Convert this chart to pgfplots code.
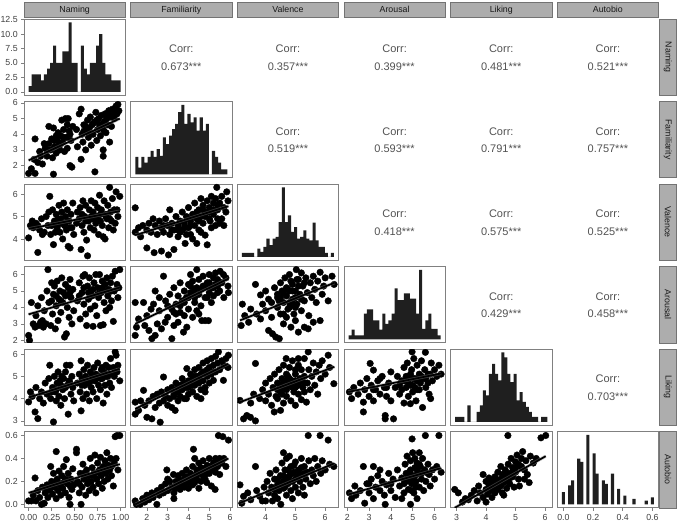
\documentclass[border=0pt]{standalone}
\usepackage{fontspec}
\setmainfont{Liberation Sans}
\usepackage{pgfplots}
\pgfplotsset{compat=1.18}
\pgfplotsset{
  panel/.style={scale only axis, width=101.3pt, height=76.3pt, anchor=north west,
    xtick=\empty, ytick=\empty,
    axis line style={draw=black!50, line width=0.7pt},
    tick style={draw=black!50, line width=0.6pt}, tick align=outside, major tick length=2.8pt,
    xtick pos=bottom, ytick pos=left,
    ticklabel style={font=\fontsize{8.8}{9}\selectfont, text=black!75},
    /pgf/number format/assume math mode=true,
    clip marker paths=true},
  pts/.style={only marks, mark=*, mark size=3.3pt, mark options={fill=black, draw=black}},
  band/.style={no marks, draw=black!50, line width=3.2pt, opacity=0.45},
  reg/.style={no marks, black, line width=1.7pt},
  hist/.style={ybar interval, fill=black!88, draw=none},
  dec1/.style={/pgf/number format/.cd, fixed, fixed zerofill, precision=1},
  dec2/.style={/pgf/number format/.cd, fixed, fixed zerofill, precision=2},
}
\tikzset{
  strip/.style={fill=black!32, draw=black!55, line width=0.6pt},
  striptext/.style={font=\fontsize{8.8}{10}\selectfont, text=black!90},
  corr/.style={font=\fontsize{11}{12}\selectfont, text=black!68},
}
\begin{document}
\begin{tikzpicture}[x=1pt,y=1pt]
\useasboundingbox (0,0) rectangle (678,-524);

% ---------- strips ----------
\foreach \L/\n in {24/Naming,130.65/Familiarity,237.3/Valence,343.95/Arousal,450.6/Liking,557.25/Autobio}{
  \draw[strip] (\L,-2) rectangle ++(101.3,-15.5);
  \node[striptext] at (\L+50.65,-9.75) {\n};
}
\foreach \T/\n in {19/Naming,101.5/Familiarity,184/Valence,266.5/Arousal,349/Liking,431.5/Autobio}{
  \draw[strip] (659.5,-\T) rectangle ++(17,-76.3);
  \node[striptext, rotate=-90] at (668,-\T-38.15) {\n};
}

% ---------- correlations ----------
\foreach \cx/\cy/\v in {181.3/57.15/0.673, 287.95/57.15/0.357, 394.6/57.15/0.399, 501.25/57.15/0.481, 607.9/57.15/0.521,
  287.95/139.65/0.519, 394.6/139.65/0.593, 501.25/139.65/0.791, 607.9/139.65/0.757,
  394.6/222.15/0.418, 501.25/222.15/0.575, 607.9/222.15/0.525,
  501.25/304.65/0.429, 607.9/304.65/0.458,
  607.9/387.15/0.703}{
  \node[corr] at (\cx,-\cy+8) {Corr:};
  \node[corr] at (\cx,-\cy-9.5) {\v***};
}

% ---------- diagonal histograms ----------
\begin{axis}[panel, at={(24pt,-19pt)}, xmin=-1.5, xmax=31.5, ymin=-0.6, ymax=12.6,
  ytick={0,2.5,5,7.5,10,12.5}, yticklabel style={dec1}]
\addplot[hist] coordinates {(0,1)(1,3)(2,3)(3,3)(4,2)(5,3)(6,4)(7,5)(8,8)(9,5)(10,5)(11,7)(12,7)(13,12)(14,5)(15,5)(16,0)(17,8)(18,4)(19,3)(20,5)(21,5)(22,8)(23,10)(24,5)(25,3)(26,3)(27,2)(28,2)(29,2)(30,2)};
\end{axis}

\begin{axis}[panel, at={(130.65pt,-101.5pt)}, xmin=-1.5, xmax=31.5, ymin=-10.4, ymax=217]
\addplot[hist] coordinates {(0,52)(1,20)(2,52)(3,35)(4,52)(5,70)(6,52)(7,75)(8,55)(9,110)(10,90)(11,115)(12,135)(13,150)(14,185)(15,207)(16,150)(17,180)(18,155)(19,170)(20,130)(21,170)(22,130)(23,150)(24,0)(25,70)(26,52)(27,35)(28,15)(29,15)(30,15)};
\end{axis}

\begin{axis}[panel, at={(237.3pt,-184pt)}, xmin=-1.5, xmax=31.5, ymin=-10.5, ymax=220]
\addplot[hist] coordinates {(0,12)(1,12)(2,12)(3,12)(4,0)(5,25)(6,15)(7,30)(8,55)(9,35)(10,55)(11,60)(12,105)(13,210)(14,105)(15,125)(16,75)(17,90)(18,55)(19,60)(20,80)(21,55)(22,50)(23,103)(24,50)(25,30)(26,30)(27,12)(28,0)(29,12)(30,12)};
\end{axis}

\begin{axis}[panel, at={(343.95pt,-266.5pt)}, xmin=-1.5, xmax=31.5, ymin=-10.3, ymax=216]
\addplot[hist] coordinates {(0,12)(1,29)(2,12)(3,12)(4,12)(5,76)(6,89)(7,89)(8,56)(9,56)(10,29)(11,76)(12,46)(13,56)(14,76)(15,151)(16,116)(17,116)(18,136)(19,136)(20,121)(21,121)(22,76)(23,206)(24,31)(25,56)(26,76)(27,31)(28,31)(29,12)(30,12)};
\end{axis}

\begin{axis}[panel, at={(450.6pt,-349pt)}, xmin=-1.5, xmax=31.5, ymin=-10.5, ymax=220]
\addplot[hist] coordinates {(0,15)(1,15)(2,15)(3,0)(4,50)(5,0)(6,0)(7,30)(8,50)(9,95)(10,80)(11,145)(12,175)(13,145)(14,125)(15,210)(16,195)(17,145)(18,120)(19,145)(20,65)(21,90)(22,60)(23,45)(24,30)(25,15)(26,15)(27,0)(28,15)(29,15)(30,15)};
\end{axis}

\begin{axis}[panel, at={(557.25pt,-431.5pt)}, xmin=-0.0414, xmax=0.6414, ymin=-10.3, ymax=216.3,
  xtick={0,0.2,0.4,0.6}, xticklabel style={dec1}]
\addplot[ybar, bar width=0.0207, fill=black!88, draw=none] coordinates {(0,36)(0.0414,56)(0.0621,71)(0.1034,136)(0.1241,126)(0.1655,206)(0.2069,151)(0.2276,91)(0.2690,71)(0.2897,61)(0.3310,91)(0.3724,46)(0.4138,26)(0.4759,16)(0.5586,11)(0.6,21)};
\end{axis}

% ---------- row 2: Familiarity ----------
\begin{axis}[panel, at={(24pt,-101.5pt)}, xmin=-0.05, xmax=1.05, ymin=1.22, ymax=6.09, ytick={2,3,4,5,6}]
\addplot[pts] coordinates {(0.00,1.5)(0.07,1.5)(0.27,1.45)(0.03,1.8)(0.06,2.4)(0.10,2.2)(0.13,2.6)(0.15,2.1)(0.07,3.7)(0.12,2.9)(0.18,3.1)(0.20,2.6)(0.22,3.4)(0.24,3.0)(0.25,3.7)(0.22,4.5)(0.27,4.4)(0.28,3.2)(0.30,2.8)(0.31,3.6)(0.32,4.1)(0.33,3.3)(0.35,3.9)(0.36,4.9)(0.37,3.5)(0.38,4.3)(0.39,2.9)(0.40,5.0)(0.41,3.8)(0.42,3.1)(0.43,5.0)(0.44,4.2)(0.45,2.0)(0.46,3.6)(0.47,1.9)(0.48,4.5)(0.30,3.9)(0.34,3.0)(0.26,2.5)(0.17,3.4)(0.55,5.3)(0.57,5.6)(0.57,2.4)(0.58,4.0)(0.59,3.5)(0.60,4.6)(0.62,3.0)(0.63,4.2)(0.64,4.9)(0.65,3.8)(0.66,4.4)(0.67,5.1)(0.68,3.3)(0.69,4.6)(0.70,4.0)(0.72,1.6)(0.72,4.8)(0.73,5.4)(0.74,3.6)(0.75,4.3)(0.76,5.0)(0.77,4.6)(0.78,3.9)(0.79,5.2)(0.80,4.4)(0.81,2.6)(0.81,3.0)(0.82,4.8)(0.83,5.3)(0.84,4.1)(0.85,5.0)(0.86,4.6)(0.87,5.5)(0.88,3.5)(0.89,5.1)(0.90,4.5)(0.91,5.6)(0.93,5.0)(0.95,5.8)(0.97,5.9)(0.98,5.5)(0.96,5.3)(0.53,3.2)(0.52,4.3)(0.35,3.4)(0.38,3.8)(0.42,4.6)(0.45,4.0)(0.62,4.5)(0.66,4.0)(0.70,4.7)(0.74,4.9)(0.78,4.6)(0.82,4.2)(0.86,5.2)(0.90,5.2)(0.94,5.4)(0.28,3.6)(0.20,3.0)(0.60,4.2)};
\addplot[band] coordinates {(0,2.33)(0.99,5.0)};
\addplot[reg] coordinates {(0,2.33)(0.99,5.0)};
\end{axis}

% ---------- row 3: Valence ----------
\begin{axis}[panel, at={(24pt,-184pt)}, xmin=-0.05, xmax=1.05, ymin=3.05, ymax=6.45, ytick={4,5,6}]
\addplot[pts] coordinates {(0.00,4.05)(0.02,4.6)(0.04,4.8)(0.05,4.5)(0.08,4.7)(0.10,3.4)(0.12,4.4)(0.14,4.9)(0.17,4.3)(0.19,5.0)(0.21,4.6)(0.23,5.9)(0.24,4.2)(0.26,5.3)(0.27,3.75)(0.28,4.8)(0.30,5.1)(0.31,4.5)(0.32,4.9)(0.33,5.5)(0.34,4.3)(0.35,4.7)(0.36,5.2)(0.37,4.0)(0.38,5.6)(0.39,4.6)(0.40,5.0)(0.41,4.4)(0.42,5.3)(0.43,3.67)(0.44,4.8)(0.45,3.6)(0.46,5.1)(0.47,4.5)(0.48,5.6)(0.49,4.2)(0.29,4.3)(0.22,5.2)(0.15,4.2)(0.55,4.9)(0.56,5.4)(0.57,3.53)(0.58,4.6)(0.59,5.7)(0.60,4.3)(0.61,5.0)(0.62,5.5)(0.63,3.95)(0.64,3.25)(0.65,4.8)(0.66,5.3)(0.67,4.5)(0.68,5.7)(0.69,4.9)(0.70,5.2)(0.71,4.4)(0.72,5.6)(0.73,4.7)(0.74,5.0)(0.75,5.4)(0.76,4.2)(0.77,5.95)(0.78,4.8)(0.79,5.3)(0.80,4.6)(0.81,4.1)(0.82,5.7)(0.83,4.0)(0.84,5.1)(0.85,4.9)(0.86,5.5)(0.87,4.5)(0.88,6.3)(0.89,5.2)(0.90,4.8)(0.91,5.8)(0.92,4.4)(0.94,4.7)(0.95,6.1)(0.96,5.3)(0.99,5.9)(0.97,5.0)(0.52,4.7)(0.53,5.2)(0.35,4.9)(0.40,4.7)(0.45,4.5)(0.30,4.6)(0.62,4.8)(0.68,5.0)(0.72,4.9)(0.78,5.1)(0.84,5.0)(0.88,4.9)(0.25,4.6)(0.10,4.6)(0.58,5.1)(0.93,5.3)};
\addplot[band] coordinates {(0,4.45)(0.99,5.24)};
\addplot[reg] coordinates {(0,4.45)(0.99,5.24)};
\end{axis}

\begin{axis}[panel, at={(130.65pt,-184pt)}, xmin=1.22, xmax=6.09, ymin=3.05, ymax=6.45]
\addplot[pts] coordinates {(1.44,5.39)(1.44,4.3)(1.6,4.5)(1.7,4.1)(1.8,4.6)(2.0,3.6)(2.0,4.4)(2.1,4.7)(2.2,4.3)(2.35,3.39)(2.4,4.6)(2.5,4.2)(2.6,4.8)(2.7,3.46)(2.7,4.5)(2.8,4.3)(2.9,4.9)(3.0,4.6)(3.04,3.29)(3.1,5.3)(3.1,4.2)(3.2,4.7)(3.3,3.53)(3.3,4.4)(3.4,5.0)(3.5,4.6)(3.5,4.1)(3.6,4.8)(3.7,5.2)(3.7,4.4)(3.8,4.7)(3.84,3.8)(3.9,5.0)(4.0,4.5)(4.0,5.4)(4.1,4.8)(4.1,4.2)(4.2,5.1)(4.3,4.6)(4.3,5.6)(4.4,3.8)(4.4,4.9)(4.5,5.3)(4.5,4.4)(4.6,5.8)(4.6,5.0)(4.7,4.7)(4.7,5.5)(4.8,4.17)(4.8,5.2)(4.9,3.74)(4.9,5.7)(5.0,4.9)(5.0,5.4)(5.04,4.8)(5.1,5.9)(5.1,4.5)(5.2,5.6)(5.2,5.1)(5.3,5.8)(5.3,4.6)(5.36,6.3)(5.4,5.3)(5.4,4.9)(5.5,4.7)(5.5,5.6)(5.6,4.9)(5.6,5.9)(5.7,5.4)(5.7,4.6)(5.84,6.1)(5.8,5.2)(5.9,5.7)(4.2,4.0)(3.6,4.3)(3.9,4.2)(4.6,4.3)(2.3,4.9)(3.8,4.5)(4.0,4.9)(4.3,5.0)(4.5,4.8)(4.8,5.0)(5.0,5.2)(5.2,5.3)(4.4,5.2)(3.5,4.4)(3.2,4.4)(2.8,4.6)(4.7,5.3)(5.4,5.5)(4.1,4.6)};
\addplot[band] coordinates {(1.44,4.17)(5.92,5.46)};
\addplot[reg] coordinates {(1.44,4.17)(5.92,5.46)};
\end{axis}

% ---------- row 4: Arousal ----------
\begin{axis}[panel, at={(24pt,-266.5pt)}, xmin=-0.05, xmax=1.05, ymin=1.85, ymax=6.49, ytick={2,3,4,5,6}]
\addplot[pts] coordinates {(0.00,2.3)(0.01,2.0)(0.03,4.3)(0.05,3.0)(0.07,2.8)(0.08,3.5)(0.10,4.1)(0.11,2.9)(0.13,3.1)(0.14,4.6)(0.16,2.8)(0.17,3.8)(0.19,3.0)(0.20,5.0)(0.21,6.3)(0.22,4.3)(0.24,2.9)(0.25,5.5)(0.26,3.6)(0.27,4.8)(0.28,5.3)(0.29,2.7)(0.30,4.1)(0.31,5.6)(0.32,3.2)(0.33,4.5)(0.34,5.0)(0.35,3.7)(0.36,5.8)(0.37,4.3)(0.38,4.9)(0.39,2.2)(0.40,5.4)(0.41,2.4)(0.42,4.0)(0.43,5.2)(0.44,3.4)(0.45,5.7)(0.46,4.6)(0.47,3.0)(0.48,5.1)(0.49,3.8)(0.53,4.4)(0.55,5.5)(0.56,3.3)(0.58,4.9)(0.59,5.9)(0.60,4.2)(0.61,6.0)(0.62,3.6)(0.63,2.9)(0.64,5.3)(0.65,4.5)(0.66,5.8)(0.67,3.9)(0.68,5.0)(0.69,4.7)(0.70,2.85)(0.71,5.5)(0.72,4.1)(0.73,6.0)(0.74,3.5)(0.75,5.2)(0.76,4.6)(0.77,6.0)(0.78,2.9)(0.79,4.9)(0.80,5.6)(0.81,2.95)(0.82,4.3)(0.83,5.4)(0.84,3.8)(0.85,5.8)(0.86,4.7)(0.87,5.1)(0.88,4.0)(0.89,5.5)(0.90,4.4)(0.91,5.9)(0.92,3.15)(0.93,5.0)(0.94,6.2)(0.96,5.4)(0.99,6.3)(0.98,5.2)(0.97,4.6)(0.30,4.7)(0.35,4.4)(0.40,4.7)(0.45,4.9)(0.60,5.2)(0.65,4.9)(0.70,5.1)(0.75,4.8)(0.80,5.2)(0.85,5.0)(0.90,5.0)(0.25,4.4)(0.15,3.2)(0.55,4.7)};
\addplot[band] coordinates {(0,3.58)(0.99,5.21)};
\addplot[reg] coordinates {(0,3.58)(0.99,5.21)};
\end{axis}

\begin{axis}[panel, at={(130.65pt,-266.5pt)}, xmin=1.22, xmax=6.09, ymin=1.85, ymax=6.49]
\addplot[pts] coordinates {(1.44,4.3)(1.44,2.3)(1.5,2.8)(1.6,3.3)(1.84,4.3)(1.9,2.9)(2.0,3.5)(2.1,2.6)(2.24,2.1)(2.32,4.2)(2.4,2.3)(2.4,5.0)(2.5,3.0)(2.6,3.8)(2.7,2.7)(2.8,5.9)(2.88,3.1)(2.9,4.4)(3.0,3.4)(3.1,4.8)(3.2,2.1)(3.2,3.9)(3.3,2.9)(3.3,5.2)(3.4,4.2)(3.5,3.1)(3.5,4.7)(3.6,5.5)(3.6,3.7)(3.7,4.4)(3.76,2.5)(3.8,5.0)(3.8,3.5)(3.92,2.8)(3.9,4.6)(4.0,5.4)(4.0,3.9)(4.1,4.9)(4.1,6.0)(4.2,3.4)(4.2,5.6)(4.3,4.3)(4.3,5.1)(4.4,6.3)(4.4,3.8)(4.5,4.8)(4.5,5.7)(4.6,4.1)(4.64,3.2)(4.7,5.3)(4.7,5.9)(4.8,4.6)(4.8,3.2)(4.9,5.5)(4.96,3.2)(5.0,4.9)(5.0,6.0)(5.1,5.2)(5.1,4.3)(5.2,5.8)(5.2,4.7)(5.3,5.4)(5.3,6.1)(5.4,4.9)(5.4,5.7)(5.52,6.2)(5.5,5.0)(5.6,5.5)(5.68,6.0)(5.7,4.6)(5.8,5.8)(5.92,4.9)(5.9,5.3)(3.0,4.1)(2.6,4.6)(4.5,3.6)(3.4,3.6)(2.2,3.9)(3.8,4.3)(4.0,4.6)(4.2,4.9)(4.4,5.2)(4.6,5.1)(4.8,5.3)(5.0,5.5)(4.3,4.6)(3.6,4.1)(3.3,3.7)(5.2,5.2)(4.9,4.6)(4.1,5.3)(5.4,5.3)};
\addplot[band] coordinates {(1.44,3.0)(5.92,5.75)};
\addplot[reg] coordinates {(1.44,3.0)(5.92,5.75)};
\end{axis}

\begin{axis}[panel, at={(237.3pt,-266.5pt)}, xmin=3.05, xmax=6.45, ymin=1.85, ymax=6.49]
\addplot[pts] coordinates {(3.18,2.9)(3.22,4.2)(3.3,3.5)(3.43,3.1)(3.5,3.9)(3.66,5.4)(3.7,3.6)(3.83,4.76)(3.83,3.3)(3.9,4.2)(4.0,3.8)(4.0,5.0)(4.1,2.6)(4.1,4.5)(4.2,3.4)(4.23,2.4)(4.3,5.2)(4.34,2.2)(4.4,4.0)(4.4,4.8)(4.46,2.1)(4.5,3.6)(4.5,5.5)(4.6,4.3)(4.6,3.0)(4.65,5.8)(4.7,4.7)(4.7,3.4)(4.75,5.1)(4.8,4.0)(4.8,6.0)(4.85,2.8)(4.9,4.5)(4.9,5.4)(4.95,3.6)(5.0,5.0)(5.03,6.3)(5.0,3.2)(5.05,4.2)(5.1,5.7)(5.1,2.5)(5.15,4.8)(5.2,3.8)(5.2,6.1)(5.25,5.3)(5.3,2.8)(5.3,4.4)(5.35,5.8)(5.4,4.9)(5.43,2.7)(5.45,3.5)(5.5,5.5)(5.55,4.6)(5.6,3.1)(5.6,5.9)(5.65,5.1)(5.7,4.3)(5.75,5.6)(5.83,6.14)(5.83,3.2)(5.9,4.8)(5.95,5.3)(6.0,5.8)(6.1,4.4)(6.23,5.9)(6.3,5.4)(4.45,4.4)(4.55,5.0)(4.75,3.9)(4.85,5.6)(5.0,4.0)(4.2,4.3)(4.5,4.6)(4.6,4.9)(4.7,5.2)(4.8,4.3)(4.9,5.0)(5.0,4.6)(5.1,5.3)(5.2,4.5)(4.4,4.6)(4.6,3.6)(5.3,5.5)(4.8,5.0)(4.9,4.2)(5.05,5.7)};
\addplot[band] coordinates {(3.14,3.21)(6.31,5.5)};
\addplot[reg] coordinates {(3.14,3.21)(6.31,5.5)};
\end{axis}

% ---------- row 5: Liking ----------
\begin{axis}[panel, at={(24pt,-349pt)}, xmin=-0.05, xmax=1.05, ymin=2.8, ymax=6.23, ytick={3,4,5,6}]
\addplot[pts] coordinates {(0.00,3.85)(0.02,4.3)(0.04,4.1)(0.07,3.4)(0.08,4.5)(0.10,3.1)(0.12,4.0)(0.14,4.3)(0.16,3.8)(0.18,4.7)(0.20,4.2)(0.22,4.9)(0.23,5.5)(0.24,4.0)(0.26,4.5)(0.27,2.95)(0.28,5.0)(0.29,4.3)(0.30,3.9)(0.31,4.7)(0.32,5.2)(0.33,4.1)(0.34,4.8)(0.35,3.7)(0.36,5.0)(0.37,4.4)(0.38,4.9)(0.39,4.0)(0.40,5.2)(0.41,5.5)(0.42,4.6)(0.43,3.3)(0.44,4.8)(0.45,5.5)(0.46,4.2)(0.47,5.0)(0.48,4.5)(0.49,3.9)(0.53,4.7)(0.55,5.1)(0.56,4.3)(0.57,5.7)(0.57,3.45)(0.58,4.9)(0.59,4.0)(0.60,5.3)(0.61,4.6)(0.62,5.0)(0.63,4.2)(0.64,5.5)(0.65,4.7)(0.66,3.9)(0.67,5.2)(0.68,4.5)(0.69,5.0)(0.70,4.3)(0.71,5.4)(0.72,4.8)(0.73,5.1)(0.74,4.0)(0.75,5.6)(0.76,4.6)(0.77,5.0)(0.78,4.4)(0.79,5.3)(0.80,4.9)(0.81,3.8)(0.82,5.2)(0.83,4.6)(0.84,5.5)(0.85,4.2)(0.86,5.0)(0.87,5.4)(0.88,4.7)(0.89,5.8)(0.90,4.5)(0.91,5.1)(0.92,5.4)(0.94,6.1)(0.95,5.95)(0.96,5.2)(0.99,4.8)(0.97,5.5)(0.35,4.6)(0.40,4.5)(0.45,4.7)(0.30,4.4)(0.62,4.8)(0.68,4.8)(0.72,5.0)(0.78,4.9)(0.84,5.0)(0.88,5.1)(0.25,4.3)(0.58,4.6)(0.93,5.0)(0.80,5.4)};
\addplot[band] coordinates {(0,4.05)(0.99,5.34)};
\addplot[reg] coordinates {(0,4.05)(0.99,5.34)};
\end{axis}

\begin{axis}[panel, at={(130.65pt,-349pt)}, xmin=1.22, xmax=6.09, ymin=2.8, ymax=6.23]
\addplot[pts] coordinates {(1.44,3.84)(1.44,3.3)(1.6,3.47)(1.7,3.9)(1.84,4.37)(1.9,3.7)(2.0,3.16)(2.1,3.9)(2.24,3.09)(2.3,4.1)(2.4,3.6)(2.5,4.2)(2.6,3.8)(2.64,2.94)(2.7,4.3)(2.8,4.97)(2.8,3.9)(2.9,4.1)(3.0,4.4)(3.0,3.7)(3.1,4.0)(3.2,4.5)(3.2,3.6)(3.3,4.2)(3.36,3.47)(3.4,4.7)(3.5,4.3)(3.5,3.9)(3.6,4.6)(3.6,4.1)(3.7,4.9)(3.7,4.4)(3.8,4.0)(3.8,4.7)(3.9,4.5)(3.92,5.35)(4.0,4.2)(4.0,4.8)(4.1,4.6)(4.1,5.1)(4.2,4.3)(4.2,4.9)(4.3,4.6)(4.3,5.3)(4.4,4.1)(4.4,5.0)(4.5,4.7)(4.5,5.4)(4.6,4.4)(4.6,5.1)(4.7,4.8)(4.7,5.6)(4.8,4.5)(4.8,5.2)(4.9,5.0)(4.9,5.7)(5.0,4.7)(5.0,5.4)(5.1,5.1)(5.1,5.8)(5.2,4.82)(5.2,5.5)(5.3,5.2)(5.3,5.9)(5.4,5.6)(5.44,6.1)(5.5,5.3)(5.6,5.7)(5.68,4.82)(5.7,5.5)(5.8,5.8)(5.92,5.95)(5.9,5.4)(4.6,4.0)(3.9,4.0)(4.8,4.3)(3.9,4.6)(4.1,4.8)(4.3,5.0)(4.5,5.0)(4.7,5.2)(4.9,5.3)(4.0,4.5)(4.4,4.7)(4.6,4.8)(5.0,5.1)(3.5,4.5)(3.3,4.1)(5.2,5.2)(4.2,4.6)};
\addplot[band] coordinates {(1.44,3.54)(5.92,5.57)};
\addplot[reg] coordinates {(1.44,3.54)(5.92,5.57)};
\end{axis}

\begin{axis}[panel, at={(237.3pt,-349pt)}, xmin=3.05, xmax=6.45, ymin=2.8, ymax=6.23]
\addplot[pts] coordinates {(3.14,3.92)(3.26,3.09)(3.37,3.24)(3.49,3.16)(3.5,3.8)(3.6,4.2)(3.66,3.0)(3.66,5.58)(3.8,4.0)(3.9,4.4)(4.0,3.9)(4.0,4.7)(4.1,4.2)(4.15,4.9)(4.2,3.7)(4.25,4.5)(4.29,3.4)(4.3,5.1)(4.35,4.1)(4.4,4.7)(4.45,5.3)(4.5,3.47)(4.5,4.3)(4.55,4.9)(4.6,3.8)(4.6,5.5)(4.65,4.5)(4.69,5.8)(4.7,4.1)(4.75,5.0)(4.8,4.6)(4.8,5.4)(4.85,3.9)(4.9,4.8)(4.9,5.7)(4.95,4.3)(5.0,5.1)(5.0,3.7)(5.05,4.7)(5.1,5.5)(5.1,4.2)(5.15,4.9)(5.2,5.3)(5.2,3.95)(5.25,4.5)(5.3,5.0)(5.3,5.8)(5.37,3.84)(5.4,4.7)(5.43,6.1)(5.45,5.3)(5.5,4.4)(5.55,5.0)(5.6,5.6)(5.65,4.6)(5.7,5.2)(5.75,4.2)(5.8,5.5)(5.85,4.9)(5.9,5.7)(6.0,5.1)(6.1,5.95)(6.15,5.4)(6.29,4.67)(4.4,4.0)(4.7,4.4)(5.0,4.5)(5.3,4.3)(4.6,4.8)(5.1,5.8)(4.5,4.6)(4.6,4.5)(4.7,4.8)(4.8,4.9)(4.9,4.5)(5.0,4.8)(5.1,4.6)(5.2,4.8)(4.4,4.4)(4.7,5.1)(5.0,5.3)(5.3,4.7)(4.55,4.2)(4.85,4.6)};
\addplot[band] coordinates {(3.14,3.84)(6.31,5.43)};
\addplot[reg] coordinates {(3.14,3.84)(6.31,5.43)};
\end{axis}

\begin{axis}[panel, at={(343.95pt,-349pt)}, xmin=1.85, xmax=6.49, ymin=2.8, ymax=6.23]
\addplot[pts] coordinates {(2.1,4.3)(2.2,4.0)(2.3,4.5)(2.5,4.2)(2.6,4.7)(2.74,3.84)(2.74,3.4)(2.8,4.4)(2.9,4.9)(3.0,4.1)(3.05,5.58)(3.1,4.6)(3.2,5.28)(3.2,3.9)(3.3,4.4)(3.4,4.8)(3.5,4.2)(3.6,5.0)(3.7,4.5)(3.74,3.24)(3.74,3.09)(3.8,4.1)(3.9,4.7)(4.0,5.2)(4.0,3.9)(4.12,3.09)(4.2,4.5)(4.3,5.0)(4.4,4.2)(4.5,4.8)(4.6,5.4)(4.6,3.8)(4.7,4.5)(4.75,5.6)(4.8,4.1)(4.85,5.0)(4.89,3.77)(4.9,4.6)(4.95,5.3)(4.97,6.1)(5.0,4.3)(5.05,5.8)(5.1,4.9)(5.15,3.9)(5.2,5.5)(5.2,4.4)(5.3,5.1)(5.35,4.7)(5.4,5.7)(5.45,3.6)(5.5,4.9)(5.55,5.3)(5.58,6.08)(5.6,4.5)(5.7,5.1)(5.75,4.2)(5.82,4.0)(5.85,5.6)(5.9,4.8)(6.0,5.3)(6.1,5.0)(6.2,5.5)(6.3,5.1)(5.0,4.9)(5.3,4.4)(4.4,4.6)(3.5,4.9)(5.7,4.7)(4.6,4.8)(4.8,4.7)(5.0,4.6)(5.2,4.8)(5.4,5.0)(4.9,5.1)(5.1,4.5)(5.3,4.8)(5.6,4.9)(4.7,5.0)(4.5,4.4)(5.8,5.1)(3.2,4.4)(3.8,4.5)};
\addplot[band] coordinates {(2.05,4.3)(6.3,5.13)};
\addplot[reg] coordinates {(2.05,4.3)(6.3,5.13)};
\end{axis}

% ---------- row 6: Autobio ----------
\begin{axis}[panel, at={(24pt,-431.5pt)}, xmin=-0.05, xmax=1.05, ymin=-0.03, ymax=0.635,
  ytick={0,0.2,0.4,0.6}, yticklabel style={dec1}, xtick={0,0.25,0.5,0.75,1}, xticklabel style={dec2}]
\addplot[pts] coordinates {(0.00,0.03)(0.03,0.03)(0.05,0.08)(0.07,0.23)(0.08,0.03)(0.10,0.12)(0.12,0.06)(0.14,0.00)(0.15,0.15)(0.17,0.01)(0.18,0.10)(0.20,0.17)(0.21,0.06)(0.23,0.13)(0.24,0.33)(0.25,0.20)(0.26,0.09)(0.27,0.27)(0.28,0.15)(0.30,0.46)(0.30,0.05)(0.31,0.22)(0.32,0.12)(0.33,0.29)(0.34,0.17)(0.35,0.08)(0.36,0.25)(0.37,0.14)(0.38,0.33)(0.39,0.20)(0.40,0.10)(0.41,0.39)(0.42,0.18)(0.43,0.27)(0.44,0.06)(0.45,0.00)(0.46,0.22)(0.47,0.13)(0.48,0.31)(0.49,0.17)(0.52,0.48)(0.52,0.45)(0.53,0.20)(0.55,0.10)(0.56,0.27)(0.57,0.00)(0.58,0.15)(0.59,0.35)(0.60,0.22)(0.62,0.08)(0.63,0.30)(0.64,0.18)(0.65,0.25)(0.66,0.12)(0.67,0.40)(0.68,0.20)(0.69,0.32)(0.70,0.15)(0.71,0.27)(0.72,0.43)(0.73,0.10)(0.74,0.22)(0.75,0.36)(0.76,0.18)(0.77,0.30)(0.78,0.41)(0.79,0.25)(0.80,0.14)(0.81,0.33)(0.82,0.20)(0.83,0.38)(0.84,0.27)(0.85,0.45)(0.86,0.22)(0.87,0.34)(0.88,0.30)(0.89,0.40)(0.90,0.25)(0.92,0.16)(0.93,0.36)(0.94,0.59)(0.96,0.60)(0.99,0.60)(0.97,0.30)(0.95,0.40)(0.30,0.20)(0.35,0.18)(0.40,0.22)(0.45,0.16)(0.60,0.27)(0.65,0.20)(0.70,0.25)(0.75,0.28)(0.80,0.30)(0.85,0.30)(0.90,0.33)(0.20,0.12)(0.55,0.18)(0.25,0.15)};
\addplot[band] coordinates {(0,0.10)(0.99,0.35)};
\addplot[reg] coordinates {(0,0.10)(0.99,0.35)};
\end{axis}

\begin{axis}[panel, at={(130.65pt,-431.5pt)}, xmin=1.22, xmax=6.09, ymin=-0.03, ymax=0.635, xtick={2,3,4,5,6}]
\addplot[pts] coordinates {(1.44,0.03)(1.5,0.0)(1.68,0.00)(1.8,0.05)(1.9,0.02)(2.0,0.08)(2.1,0.04)(2.24,0.10)(2.3,0.06)(2.48,0.00)(2.5,0.12)(2.6,0.08)(2.7,0.15)(2.8,0.10)(2.9,0.18)(2.96,0.30)(3.0,0.12)(3.1,0.20)(3.2,0.15)(3.28,0.26)(3.3,0.10)(3.4,0.20)(3.5,0.17)(3.5,0.25)(3.6,0.13)(3.6,0.21)(3.7,0.18)(3.7,0.27)(3.8,0.15)(3.8,0.22)(3.9,0.19)(3.9,0.30)(4.0,0.23)(4.0,0.14)(4.1,0.27)(4.1,0.20)(4.2,0.33)(4.24,0.48)(4.2,0.17)(4.3,0.25)(4.3,0.40)(4.4,0.22)(4.4,0.30)(4.5,0.27)(4.5,0.36)(4.6,0.20)(4.6,0.32)(4.7,0.25)(4.7,0.38)(4.8,0.30)(4.8,0.22)(4.88,0.19)(4.9,0.34)(5.0,0.40)(5.0,0.27)(5.1,0.32)(5.1,0.16)(5.2,0.36)(5.28,0.13)(5.3,0.40)(5.3,0.28)(5.4,0.33)(5.44,0.60)(5.5,0.40)(5.5,0.26)(5.6,0.36)(5.65,0.59)(5.7,0.40)(5.8,0.33)(5.92,0.56)(3.3,0.05)(4.5,0.14)(3.0,0.22)(3.8,0.18)(4.0,0.19)(4.2,0.22)(4.4,0.26)(4.6,0.28)(4.8,0.26)(5.0,0.33)(5.2,0.30)(3.6,0.17)(3.4,0.14)(4.3,0.19)(4.7,0.31)(5.4,0.38)(3.9,0.24)};
\addplot[band] coordinates {(1.44,0.0)(5.92,0.40)};
\addplot[reg] coordinates {(1.44,0.0)(5.92,0.40)};
\end{axis}

\begin{axis}[panel, at={(237.3pt,-431.5pt)}, xmin=3.05, xmax=6.45, ymin=-0.03, ymax=0.635, xtick={4,5,6}]
\addplot[pts] coordinates {(3.14,0.17)(3.2,0.01)(3.26,0.07)(3.4,0.10)(3.5,0.04)(3.66,0.33)(3.7,0.12)(3.8,0.07)(3.89,0.03)(3.95,0.15)(4.0,0.03)(4.05,0.20)(4.1,0.10)(4.15,0.27)(4.2,0.15)(4.23,0.03)(4.3,0.22)(4.3,0.08)(4.35,0.30)(4.4,0.17)(4.45,0.12)(4.5,0.25)(4.51,0.00)(4.55,0.36)(4.6,0.14)(4.6,0.20)(4.65,0.30)(4.7,0.08)(4.7,0.40)(4.75,0.18)(4.8,0.42)(4.8,0.25)(4.85,0.12)(4.85,0.33)(4.9,0.20)(4.95,0.28)(5.0,0.15)(5.0,0.37)(5.05,0.23)(5.1,0.10)(5.1,0.30)(5.15,0.20)(5.2,0.26)(5.2,0.40)(5.25,0.15)(5.3,0.33)(5.35,0.22)(5.4,0.28)(5.43,0.60)(5.45,0.38)(5.5,0.18)(5.55,0.30)(5.6,0.25)(5.65,0.40)(5.7,0.20)(5.75,0.33)(5.83,0.60)(5.85,0.27)(5.9,0.38)(6.0,0.30)(6.1,0.56)(6.15,0.35)(6.29,0.33)(4.4,0.05)(4.9,0.05)(5.3,0.08)(4.6,0.45)(4.6,0.25)(4.7,0.23)(4.8,0.20)(4.9,0.27)(5.0,0.22)(5.1,0.25)(4.5,0.18)(4.4,0.22)(4.75,0.30)(5.2,0.32)(4.95,0.34)(5.3,0.27)(4.3,0.13)(4.65,0.15)};
\addplot[band] coordinates {(3.14,0.012)(6.31,0.358)};
\addplot[reg] coordinates {(3.14,0.012)(6.31,0.358)};
\end{axis}

\begin{axis}[panel, at={(343.95pt,-431.5pt)}, xmin=1.85, xmax=6.49, ymin=-0.03, ymax=0.635, xtick={2,3,4,5,6}]
\addplot[pts] coordinates {(2.1,0.10)(2.2,0.05)(2.35,0.16)(2.4,0.08)(2.6,0.12)(2.74,0.33)(2.8,0.01)(2.9,0.18)(3.0,0.10)(3.1,0.22)(3.2,0.33)(3.2,0.05)(3.3,0.15)(3.4,0.25)(3.5,0.12)(3.6,0.20)(3.7,0.08)(3.74,0.00)(3.8,0.17)(3.9,0.27)(4.0,0.12)(4.1,0.22)(4.2,0.06)(4.3,0.30)(4.4,0.16)(4.5,0.23)(4.6,0.10)(4.65,0.35)(4.7,0.20)(4.74,0.42)(4.8,0.13)(4.85,0.28)(4.9,0.00)(4.9,0.38)(4.95,0.18)(4.97,0.57)(5.0,0.25)(5.0,0.45)(5.05,0.10)(5.1,0.32)(5.1,0.40)(5.15,0.20)(5.2,0.36)(5.2,0.05)(5.25,0.27)(5.3,0.15)(5.35,0.33)(5.4,0.22)(5.45,0.40)(5.5,0.12)(5.55,0.30)(5.58,0.60)(5.6,0.20)(5.7,0.35)(5.75,0.26)(5.8,0.16)(5.9,0.30)(6.0,0.22)(6.1,0.33)(6.2,0.60)(6.3,0.28)(4.5,0.05)(5.3,0.45)(3.5,0.30)(4.8,0.23)(4.9,0.30)(5.0,0.20)(5.1,0.25)(5.2,0.30)(4.7,0.27)(5.3,0.35)(5.4,0.27)(4.6,0.18)(5.6,0.28)(4.95,0.12)(5.15,0.15)(3.0,0.18)(4.0,0.18)};
\addplot[band] coordinates {(2.05,0.086)(6.31,0.316)};
\addplot[reg] coordinates {(2.05,0.086)(6.31,0.316)};
\end{axis}

\begin{axis}[panel, at={(450.6pt,-431.5pt)}, xmin=2.8, xmax=6.23, ymin=-0.03, ymax=0.635, xtick={3,4,5,6}]
\addplot[pts] coordinates {(2.94,0.13)(3.06,0.10)(3.2,0.02)(3.3,0.05)(3.4,0.04)(3.5,0.08)(3.6,0.12)(3.7,0.03)(3.75,0.16)(3.8,0.10)(3.9,0.26)(3.9,0.06)(4.0,0.13)(4.0,0.20)(4.05,0.09)(4.1,0.17)(4.1,0.23)(4.15,0.12)(4.2,0.20)(4.2,0.06)(4.25,0.15)(4.3,0.24)(4.3,0.10)(4.35,0.18)(4.4,0.13)(4.4,0.28)(4.45,0.21)(4.5,0.16)(4.5,0.33)(4.55,0.10)(4.6,0.25)(4.6,0.19)(4.65,0.30)(4.7,0.14)(4.7,0.22)(4.74,0.60)(4.75,0.35)(4.8,0.27)(4.8,0.18)(4.85,0.40)(4.9,0.24)(4.9,0.32)(4.95,0.15)(5.0,0.37)(5.0,0.28)(5.05,0.43)(5.1,0.22)(5.13,0.16)(5.15,0.33)(5.2,0.40)(5.24,0.46)(5.3,0.30)(5.35,0.38)(5.4,0.26)(5.46,0.19)(5.5,0.42)(5.6,0.36)(5.7,0.40)(5.86,0.58)(6.02,0.60)(4.6,0.08)(4.0,0.02)(5.3,0.22)(4.3,0.18)(4.4,0.20)(4.5,0.22)(4.6,0.22)(4.7,0.27)(4.8,0.23)(4.9,0.28)(5.0,0.32)(4.2,0.15)(4.55,0.26)(4.75,0.20)(5.1,0.35)(4.1,0.12)(5.2,0.33)};
\addplot[band] coordinates {(2.94,-0.03)(6.02,0.42)};
\addplot[reg] coordinates {(2.94,-0.03)(6.02,0.42)};
\end{axis}

\end{tikzpicture}
\end{document}
